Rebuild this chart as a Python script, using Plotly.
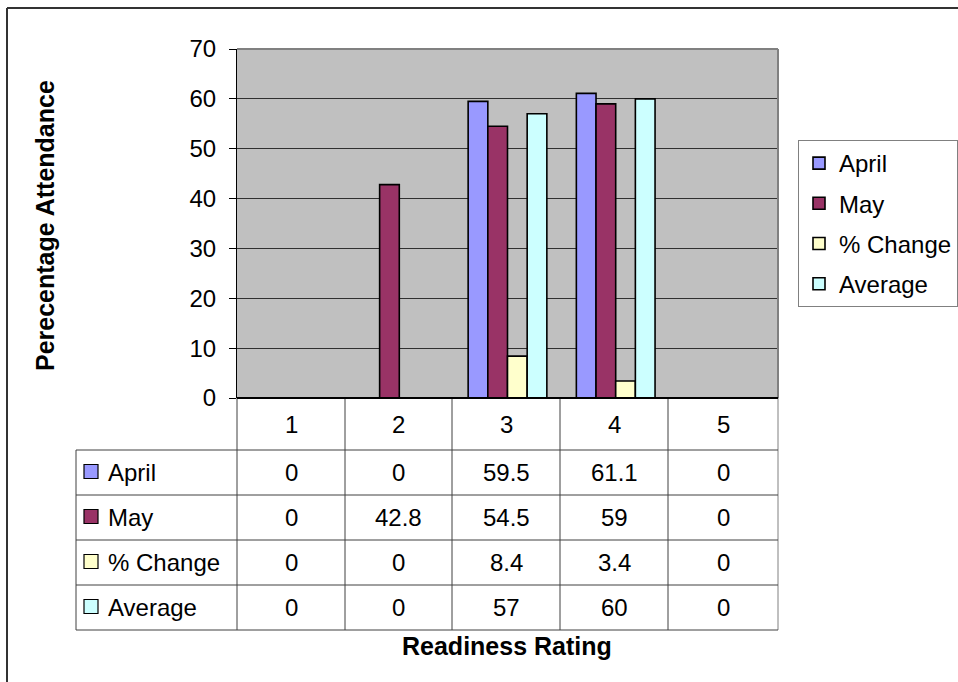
import plotly.graph_objects as go

# Readiness ratings (categories) and monthly attendance series
ratings = [1, 2, 3, 4, 5]
series_names = ["April", "May", "% Change", "Average"]
april = [0, 0, 59.5, 61.1, 0]
may = [0, 42.8, 54.5, 59, 0]
pct_change = [0, 0, 8.4, 3.4, 0]
average = [0, 0, 57, 60, 0]
series_values = [april, may, pct_change, average]
series_colors = ["#9999FF", "#993366", "#FFFFCC", "#CCFFFF"]
y_ticks = [0, 10, 20, 30, 40, 50, 60, 70]

W, H = 958, 682
FONT = "Liberation Sans, Arial, sans-serif"
FS = 24


def px(x):
    return x / W


def py(y):
    return 1 - y / H


# plot-area box in pixels
PL, PR, PT, PB = 237, 778, 49, 398

fig = go.Figure()
for name, vals, col in zip(series_names, series_values, series_colors):
    fig.add_trace(go.Bar(
        x=ratings, y=vals, name=name, legendgroup=name,
        marker=dict(color=col, line=dict(color="black", width=1.6)),
    ))

shapes = []
annotations = []

# outer chart frame (top and left edges)
shapes.append(dict(type="line", xref="paper", yref="paper", x0=px(7), x1=px(W + 5),
                   y0=py(8), y1=py(8), line=dict(color="#333333", width=2)))
shapes.append(dict(type="line", xref="paper", yref="paper", x0=px(7), x1=px(7),
                   y0=py(8), y1=py(H + 5), line=dict(color="#333333", width=2)))

# plot-area border (top and right)
shapes.append(dict(type="line", xref="paper", yref="paper", x0=px(PL), x1=px(PR),
                   y0=py(PT), y1=py(PT), line=dict(color="#808080", width=2)))
shapes.append(dict(type="line", xref="paper", yref="paper", x0=px(PR), x1=px(PR),
                   y0=py(PT), y1=py(PB), line=dict(color="#808080", width=2)))

# data table beneath the axis
col_edges = [237, 345, 452, 560, 668, 778]
row_edges = [398, 450, 495, 540, 585, 630]
TL = 76
grid_col = "#404040"
for i, xe in enumerate(col_edges):
    shapes.append(dict(type="line", xref="paper", yref="paper", x0=px(xe), x1=px(xe),
                       y0=py(PB), y1=py(row_edges[-1]),
                       line=dict(color="#808080" if i == len(col_edges) - 1 else grid_col, width=1)))
shapes.append(dict(type="line", xref="paper", yref="paper", x0=px(TL), x1=px(TL),
                   y0=py(row_edges[1]), y1=py(row_edges[-1]), line=dict(color=grid_col, width=1)))
for ye in row_edges[1:]:
    shapes.append(dict(type="line", xref="paper", yref="paper", x0=px(TL), x1=px(PR),
                       y0=py(ye), y1=py(ye), line=dict(color=grid_col, width=1)))

cell_font = dict(family=FONT, size=FS, color="black")
# header row: rating numbers
for j, r in enumerate(ratings):
    cx = (col_edges[j] + col_edges[j + 1]) / 2
    cy = (row_edges[0] + row_edges[1]) / 2
    annotations.append(dict(xref="paper", yref="paper", x=px(cx), y=py(cy), text=str(r),
                            showarrow=False, font=cell_font, xanchor="center", yanchor="middle"))
# series rows: key swatch, name, then one value per rating
for i, (name, vals, col) in enumerate(zip(series_names, series_values, series_colors)):
    cy = (row_edges[i + 1] + row_edges[i + 2]) / 2
    shapes.append(dict(type="rect", xref="paper", yref="paper", x0=px(84), x1=px(98),
                       y0=py(cy - 8), y1=py(cy + 6), fillcolor=col,
                       line=dict(color="black", width=1.2)))
    annotations.append(dict(xref="paper", yref="paper", x=px(106), y=py(cy), text=name,
                            showarrow=False, font=cell_font, xanchor="left", yanchor="middle"))
    for j, v in enumerate(vals):
        cx = (col_edges[j] + col_edges[j + 1]) / 2
        annotations.append(dict(xref="paper", yref="paper", x=px(cx), y=py(cy), text=f"{v:g}",
                                showarrow=False, font=cell_font, xanchor="center", yanchor="middle"))

# axis titles
title_font = dict(family=FONT, size=25, color="black")
annotations.append(dict(xref="paper", yref="paper", x=px(45), y=py(226),
                        text="<b>Perecentage Attendance</b>", textangle=-90, showarrow=False,
                        font=title_font, xanchor="center", yanchor="middle"))
annotations.append(dict(xref="paper", yref="paper", x=px(507), y=py(646),
                        text="<b>Readiness Rating</b>", showarrow=False,
                        font=title_font, xanchor="center", yanchor="middle"))

fig.update_layout(
    width=W, height=H,
    margin=dict(l=0, r=0, t=0, b=0, pad=0, autoexpand=False),
    paper_bgcolor="white",
    plot_bgcolor="#C0C0C0",
    barmode="group",
    bargap=1.5 / 5.5,
    bargroupgap=0,
    font=dict(family=FONT, size=FS, color="black"),
    xaxis=dict(
        domain=[px(PL), px(PR)], range=[0.5, 5.5], showticklabels=False,
        showgrid=False, zeroline=False, showline=False, ticks="", automargin=False,
    ),
    yaxis=dict(
        domain=[py(PB), py(PT)], range=[0, 70], tickvals=y_ticks,
        showgrid=True, gridcolor="#303030", gridwidth=1, zeroline=False,
        showline=True, linecolor="black", linewidth=1, automargin=False,
        ticks="outside", ticklen=7, tickcolor="black", tickwidth=1,
        tickfont=dict(family=FONT, size=FS, color="black"), ticklabelstandoff=8,
    ),
    showlegend=True,
    legend=dict(
        x=px(798), y=py(140), xanchor="left", yanchor="top",
        bgcolor="white", bordercolor="#808080", borderwidth=1,
        font=dict(family=FONT, size=FS, color="black"),
        traceorder="grouped", tracegroupgap=6, itemwidth=30,
    ),
    shapes=shapes,
    annotations=annotations,
)

# bottom axis line drawn above the bars
fig.add_shape(type="line", xref="paper", yref="paper", x0=px(PL), x1=px(PR),
              y0=py(PB), y1=py(PB), line=dict(color="black", width=2), layer="above")

fig.write_html("out.html")
